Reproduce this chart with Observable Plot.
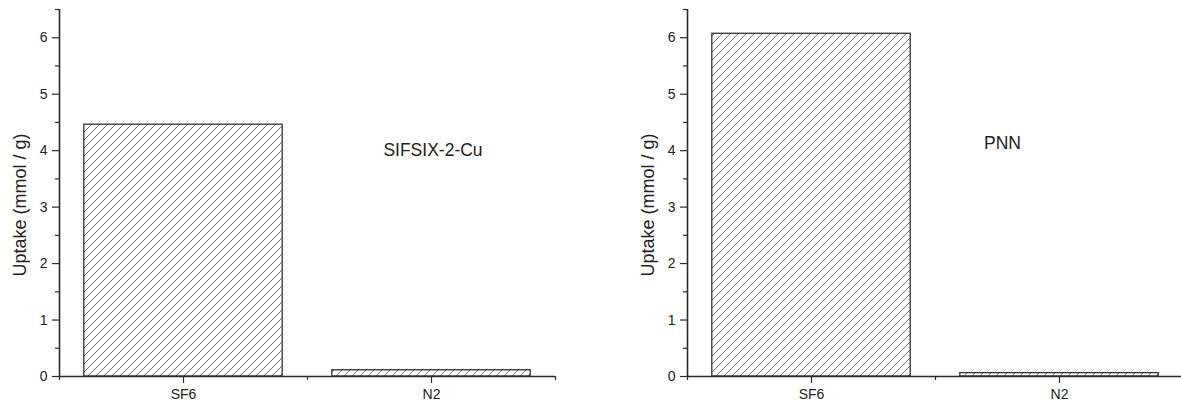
<!DOCTYPE html>
<html>
<head>
<meta charset="utf-8">
<script src="https://cdn.jsdelivr.net/npm/d3@7"></script>
<script src="https://cdn.jsdelivr.net/npm/@observablehq/plot@0.6"></script>
<style>
  html, body { margin: 0; padding: 0; background: #fff; overflow: hidden; width: 1181px; height: 403px; }
  #wrap { position: relative; width: 1181px; height: 403px; overflow: hidden; }
  .panel { position: absolute; top: 0; }
  .panel svg { display: block; overflow: visible; max-width: none !important; height: 403px !important; }
</style>
</head>
<body>
<div id="wrap">
  <div class="panel" id="left" style="left:0px;width:628px"></div>
  <div class="panel" id="right" style="left:628px;width:555px"></div>
</div>
<script>
// ---- data ----
const categories = ["SF6", "N2"];
const sifsixValues = [4.46, 0.11];
const pnnValues = [6.07, 0.06];
const panelNames = ["SIFSIX-2-Cu", "PNN"];
const yTicks = [0, 1, 2, 3, 4, 5, 6];
const yMinorTicks = [0.5, 1.5, 2.5, 3.5, 4.5, 5.5, 6.5];
const xMinorTicks = [0.5, 1.5, 2.5];
const yLabel = "Uptake (mmol / g)";
// label anchor positions (data units) for the panel names
const nameX = [1.806, 1.77];
const nameY = [4.0, 4.12];
const nameAnchor = ["start", "middle"];

const AX = "#2b2b2b";
const TICK_FS = 14;

function makePanel(values, name, nx, ny, anchor, width, marginRight, id) {
  const data = categories.map((c, i) => ({cat: c, pos: i + 1, value: values[i]}));
  const chart = Plot.plot({
    width: width,
    height: 403,
    marginLeft: 59,
    marginRight: marginRight,
    marginTop: 9,
    marginBottom: 27,
    style: {fontFamily: "Arial, 'Liberation Sans', sans-serif", fontSize: TICK_FS + "px", color: "#222", background: "#fff", overflow: "visible"},
    x: {domain: [0.5, 2.5], axis: null},
    y: {domain: [0, 6.5], axis: null},
    marks: [
      Plot.rectY(data, {
        x1: d => d.pos - 0.4, x2: d => d.pos + 0.4, y1: 0, y2: "value",
        fill: `url(#hatch-${id})`, stroke: "#333", strokeWidth: 1.3
      }),
      Plot.axisY({ticks: yTicks, tickSize: 7, tickPadding: 5, tickFormat: d => String(d), label: null, stroke: AX, strokeWidth: 1.2, fontSize: TICK_FS}),
      Plot.axisY({ticks: yMinorTicks, tickSize: 4, tickFormat: () => "", label: null, stroke: AX, strokeWidth: 1.2}),
      Plot.axisX({ticks: [1, 2], tickSize: 7, tickPadding: 6, tickFormat: d => categories[d - 1], label: null, stroke: AX, strokeWidth: 1.2, fontSize: TICK_FS}),
      Plot.axisX({ticks: xMinorTicks, tickSize: 4, tickFormat: () => "", label: null, stroke: AX, strokeWidth: 1.2}),
      Plot.ruleX([0.5], {y1: 0, y2: 6.5, stroke: AX, strokeWidth: 1.6}),
      Plot.ruleY([0], {x1: 0.5, x2: 2.5, stroke: AX, strokeWidth: 1.6}),
      Plot.text([yLabel], {text: d => d, frameAnchor: "left", textAnchor: "middle", rotate: -90, dx: -39, dy: 12, fontSize: 18, fill: "#222"}),
      Plot.text([name], {x: () => nx, y: () => ny, text: d => d, textAnchor: anchor, fontSize: 17.5, fill: "#222"})
    ]
  });
  d3.select(chart).insert("defs", ":first-child").html(
    `<pattern id="hatch-${id}" patternUnits="userSpaceOnUse" width="8" height="8">
       <rect width="8" height="8" fill="#fff"/>
       <path d="M-2,2 L2,-2 M0,8 L8,0 M6,10 L10,6" stroke="#707070" stroke-width="1"/>
     </pattern>`
  );
  return chart;
}

document.getElementById("left").appendChild(
  makePanel(sifsixValues, panelNames[0], nameX[0], nameY[0], nameAnchor[0], 628, 73, "a"));
document.getElementById("right").appendChild(
  makePanel(pnnValues, panelNames[1], nameX[1], nameY[1], nameAnchor[1], 555, 0, "b"));
</script>
</body>
</html>
